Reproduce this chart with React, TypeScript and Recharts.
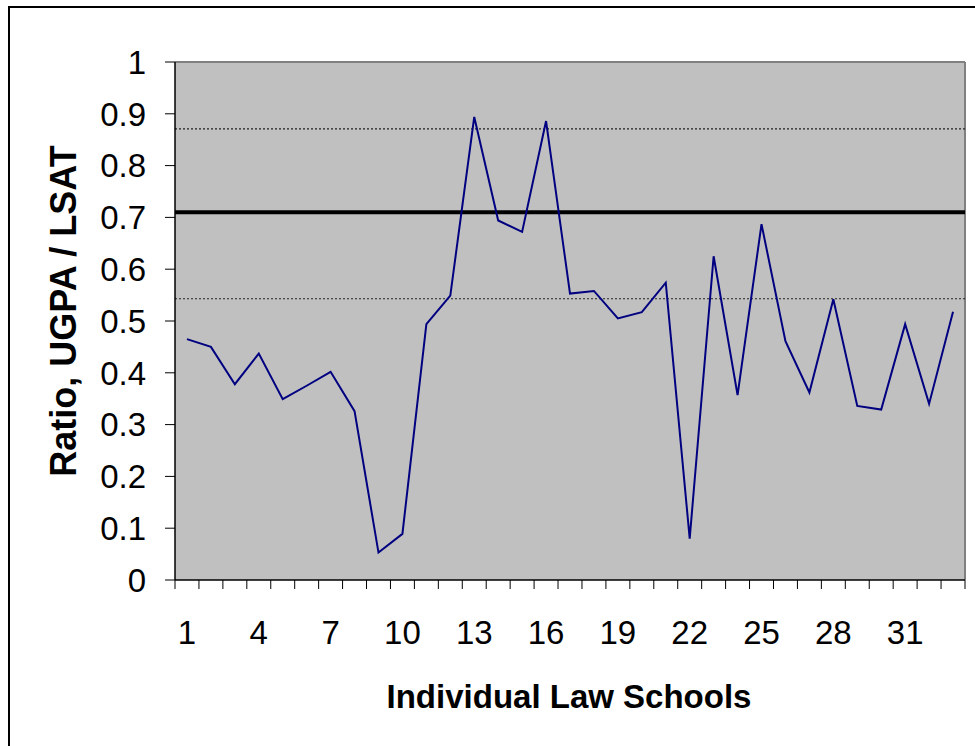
import React from 'react';
import {
  LineChart,
  Line,
  XAxis,
  YAxis,
  CartesianGrid,
  ReferenceLine,
  Label,
} from 'recharts';

// ratio UGPA / LSAT per school
const schools = Array.from({ length: 33 }, (_, i) => i + 1);
const ratios = [
  0.465, 0.45, 0.378, 0.437, 0.349, 0.375, 0.402, 0.326, 0.053, 0.089,
  0.494, 0.549, 0.894, 0.694, 0.672, 0.886, 0.553, 0.558, 0.505, 0.517,
  0.574, 0.08, 0.625, 0.357, 0.687, 0.461, 0.362, 0.542, 0.336, 0.329,
  0.494, 0.34, 0.518,
];
const labelTicks = [1, 4, 7, 10, 13, 16, 19, 22, 25, 28, 31];
const yTicks = [0, 0.1, 0.2, 0.3, 0.4, 0.5, 0.6, 0.7, 0.8, 0.9, 1];

const meanLine = 0.71;
const upperBand = 0.871;
const lowerBand = 0.543;

const data = schools.map((s, i) => ({ school: s, ratio: ratios[i] }));

// boundaries between categories get tick marks, label positions get text
const xTicks: number[] = [];
for (let i = 0; i <= schools.length; i++) {
  xTicks.push(i + 0.5);
  if (labelTicks.includes(i + 1)) xTicks.push(i + 1);
}

const FONT = '"Liberation Sans", Arial, sans-serif';

const XTick = (props: any) => {
  const { x, y, payload } = props;
  const v = payload.value;
  if (Number.isInteger(v)) {
    return (
      <text x={x} y={y + 64} textAnchor="middle" fontSize={33} fontFamily={FONT} fill="#000">
        {v}
      </text>
    );
  }
  return <line x1={x} y1={y} x2={x} y2={y + 9} stroke="#000" strokeWidth={1} />;
};

const App: React.FC = () => {
  return (
    <div
      style={{
        position: 'absolute',
        left: 0,
        top: 0,
        width: 975,
        height: 746,
        background: '#fff',
        overflow: 'hidden',
      }}
    >
      <div style={{ position: 'absolute', left: 0, top: 0 }}>
        <LineChart
          width={975}
          height={746}
          data={data}
          margin={{ top: 62, right: 10, left: 95, bottom: 46 }}
        >
          <CartesianGrid horizontal={false} vertical={false} fill="#c0c0c0" fillOpacity={1} />
          <XAxis
            dataKey="school"
            type="number"
            domain={[0.5, 33.5]}
            ticks={xTicks}
            interval={0}
            tickLine={false}
            tickSize={0}
            tickMargin={0}
            tick={<XTick />}
            axisLine={{ stroke: '#000', strokeWidth: 1.5 }}
            height={120}
          >
            <Label
              content={() => (
                <text
                  x={569}
                  y={708}
                  textAnchor="middle"
                  fontSize={33}
                  fontWeight="bold"
                  fontFamily={FONT}
                  fill="#000"
                >
                  Individual Law Schools
                </text>
              )}
            />
          </XAxis>
          <YAxis
            type="number"
            domain={[0, 1]}
            ticks={yTicks}
            interval={0}
            width={80}
            tickSize={10}
            tickMargin={19}
            tickLine={{ stroke: '#000' }}
            axisLine={{ stroke: '#000', strokeWidth: 1.5 }}
            tick={{ fontSize: 33, fontFamily: FONT, fill: '#000' }}
            tickFormatter={(v: number) => String(v)}
          >
            <Label
              content={() => (
                <text
                  x={76}
                  y={311}
                  transform="rotate(-90 76 311)"
                  textAnchor="middle"
                  fontSize={36}
                  fontWeight="bold"
                  fontFamily={FONT}
                  fill="#000"
                >
                  Ratio, UGPA / LSAT
                </text>
              )}
            />
          </YAxis>
          <ReferenceLine y={1} stroke="#808080" strokeWidth={2} />
          <ReferenceLine x={33.5} stroke="#808080" strokeWidth={2} />
          <ReferenceLine y={upperBand} stroke="#222" strokeWidth={1.2} strokeDasharray="2 2" />
          <ReferenceLine y={lowerBand} stroke="#222" strokeWidth={1.2} strokeDasharray="2 2" />
          <ReferenceLine y={meanLine} stroke="#000" strokeWidth={4} />
          <Line
            type="linear"
            dataKey="ratio"
            stroke="#000080"
            strokeWidth={2}
            dot={false}
            isAnimationActive={false}
          />
        </LineChart>
      </div>
      {/* outer frame: top and left edges */}
      <svg
        width={975}
        height={746}
        style={{ position: 'absolute', left: 0, top: 0, pointerEvents: 'none' }}
      >
        <path d="M9 746 V7 H975" fill="none" stroke="#000" strokeWidth={2} />
      </svg>
    </div>
  );
};

export default App;
